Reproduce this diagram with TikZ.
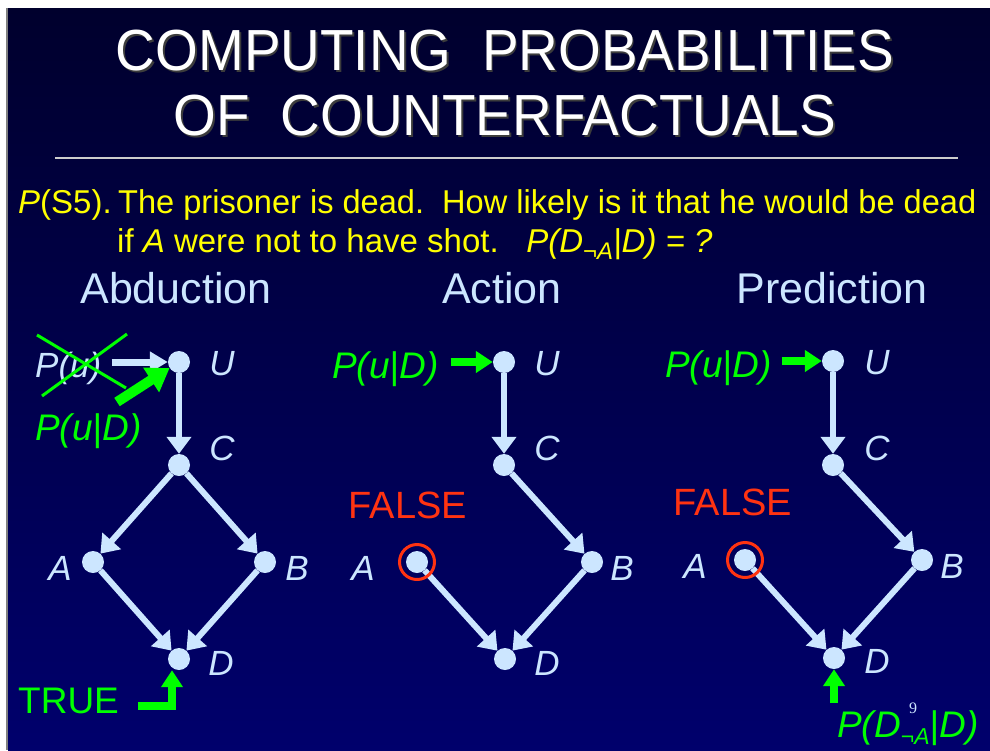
\documentclass[tikz,border=0pt]{standalone}
\usepackage{fontspec}
\setmainfont{Liberation Sans}
\newfontfamily\serifnum{Liberation Serif}
\usetikzlibrary{arrows.meta}
\definecolor{bgtop}{RGB}{0,0,45}
\definecolor{bgbot}{RGB}{0,0,108}
\definecolor{lblue}{RGB}{204,230,255}
\definecolor{ggreen}{RGB}{0,255,0}
\definecolor{rred}{RGB}{255,51,17}
\definecolor{yyellow}{RGB}{255,255,0}
\definecolor{shadowgray}{RGB}{60,60,60}
\newcommand\shadowed[1]{\makebox[0pt][l]{\kern2pt\raisebox{-2pt}{\textcolor{shadowgray}{#1}}}\textcolor{white}{#1}}
\begin{document}
\begin{tikzpicture}[x=1pt,y=-1pt,
  dot/.style={circle,fill=lblue,minimum size=22pt,inner sep=0pt},
  lab/.style={text=lblue,font=\fontsize{35}{40}\selectfont\itshape,anchor=base,inner sep=0pt},
  hdr/.style={text=lblue,font=\fontsize{43}{48}\selectfont,anchor=base,inner sep=0pt},
  gtext/.style={text=ggreen,font=\fontsize{37}{40}\selectfont\itshape,anchor=base west,inner sep=0pt},
  falsetext/.style={text=rred,font=\fontsize{38}{40}\selectfont,anchor=base,inner sep=0pt},
  edge/.style={draw=lblue,line width=6pt,-{Triangle[length=17pt,width=24pt]}},
  garrow/.style={draw=ggreen,line width=8pt,-{Triangle[length=17pt,width=21pt]}},
  warrow/.style={draw=lblue,line width=7pt,-{Triangle[length=18pt,width=20pt]}},
  ring/.style={circle,draw=rred,line width=3pt,minimum size=35pt,inner sep=0pt},
  ytext/.style={text=yyellow,font=\fontsize{33}{38}\selectfont,anchor=base west,inner sep=0pt},
  titletext/.style={font=\fontsize{58}{62}\selectfont,anchor=base,inner sep=0pt}
]
\useasboundingbox (0,0) rectangle (990,750);
\fill[white] (0,0) rectangle (990,750);
\shade[top color=bgtop,bottom color=bgbot] (8,8) rectangle (990,750);
\draw[gray,line width=1.5pt] (7,8) -- (7,750);

% title
\node[titletext] (t1) at (505,70) {\scalebox{0.947}[1]{\shadowed{COMPUTING\ \ PROBABILITIES}}};
\node[titletext] (t2) at (505,135) {\scalebox{0.947}[1]{\shadowed{OF\ \ COUNTERFACTUALS}}};
\draw[gray!40!white,line width=1.5pt] (55,158) -- (958,158);

% question
\node[ytext] (q0) at (18,213) {\textit{P}(S5).};
\node[ytext] (q1) at (118,213) {\scalebox{0.987}[1]{The prisoner is dead.\ \ How likely is it that he would be dead}};
\node[ytext] (q2) at (117,252) {if \textit{A} were not to have shot.\ \ \ \textit{P(D\raisebox{-7pt}{\fontsize{24}{24}\selectfont ¬A}|D)\ =\ ?}};

% headers
\node[hdr] (h1) at (176,303) {Abduction};
\node[hdr] (h2) at (502,303) {Action};
\node[hdr] (h3) at (832,303) {Prediction};

% ---------- Graph 1: Abduction
\node[dot] (U1) at (179,362) {};
\node[dot] (C1) at (179,465) {};
\node[dot] (A1) at (93,562) {};
\node[dot] (B1) at (265,562) {};
\node[dot] (D1) at (179,659) {};
\node[lab] (lU1) at (222,375) {U};
\node[lab] (lC1) at (222,460) {C};
\node[lab] (lA1) at (60,580) {A};
\node[lab] (lB1) at (297,580) {B};
\node[lab] (lD1) at (221,675) {D};
\draw[edge] (U1) -- (C1);
\draw[edge] (C1) -- (A1);
\draw[edge] (C1) -- (B1);
\draw[edge] (A1) -- (D1);
\draw[edge] (B1) -- (D1);

\node[lab,anchor=base west,font=\fontsize{35}{40}\selectfont\itshape] (pu) at (35,377) {P(u)};
\draw[warrow,shorten <=10pt] (pu.east |- U1) -- (U1);
\draw[ggreen,line width=3pt] (37,335) -- (126,388);
\draw[ggreen,line width=3pt] (127,334) -- (42,396);
\coordinate (gs1) at (117,402);
\draw[draw=ggreen,line width=10pt,-{Triangle[length=22pt,width=28pt]}] (gs1) -- (U1);
\node[gtext] (pud1) at (35,440) {P(u|D)};

\node[text=ggreen,font=\fontsize{37}{40}\selectfont,anchor=base west,inner sep=0pt] (true) at (18,713) {TRUE};
\coordinate (tr1) at (138,706);
\coordinate (tr2) at (172,706);
\draw[garrow] (tr1) -- (tr2) -- (tr2 |- D1.south);

% ---------- Graph 2: Action
\node[dot] (U2) at (504,362) {};
\node[dot] (C2) at (504,465) {};
\node[dot] (A2) at (417,562) {};
\node[dot] (B2) at (592,562) {};
\node[dot] (D2) at (505,659) {};
\node[lab] (lU2) at (547,375) {U};
\node[lab] (lC2) at (547,460) {C};
\node[lab] (lA2) at (363,580) {A};
\node[lab] (lB2) at (622,580) {B};
\node[lab] (lD2) at (547,675) {D};
\draw[edge] (U2) -- (C2);
\draw[edge] (C2) -- (B2);
\draw[edge] (A2) -- (D2);
\draw[edge] (B2) -- (D2);
\node[ring] (r2) at (A2) {};
\node[falsetext] (f2) at (408,518) {FALSE};
\node[gtext] (pud2) at (332,378) {P(u|D)};
\draw[garrow,shorten <=12pt] (pud2.east |- U2) -- (U2);

% ---------- Graph 3: Prediction
\node[dot] (U3) at (833,361) {};
\node[dot] (C3) at (833,465) {};
\node[dot] (A3) at (745,560) {};
\node[dot] (B3) at (922,560) {};
\node[dot] (D3) at (834,658) {};
\node[lab] (lU3) at (877,374) {U};
\node[lab] (lC3) at (877,460) {C};
\node[lab] (lA3) at (695,578) {A};
\node[lab] (lB3) at (952,578) {B};
\node[lab] (lD3) at (877,673) {D};
\draw[edge] (U3) -- (C3);
\draw[edge] (C3) -- (B3);
\draw[edge] (A3) -- (D3);
\draw[edge] (B3) -- (D3);
\node[ring] (r3) at (A3) {};
\node[falsetext] (f3) at (733,515) {FALSE};
\node[gtext] (pud3) at (665,377) {P(u|D)};
\draw[garrow,shorten <=10pt] (pud3.east |- U3) -- (U3);
\coordinate (d3b) at (834,703);
\draw[garrow] (d3b) -- (D3);
\node[gtext] (pdd) at (837,737) {P(D\raisebox{-7pt}{\fontsize{23}{23}\selectfont ¬A}|D)};
\node[text=lblue,font=\serifnum\fontsize{16}{16}\selectfont,inner sep=0pt] (pnum) at (913,708) {9};
\end{tikzpicture}
\end{document}
